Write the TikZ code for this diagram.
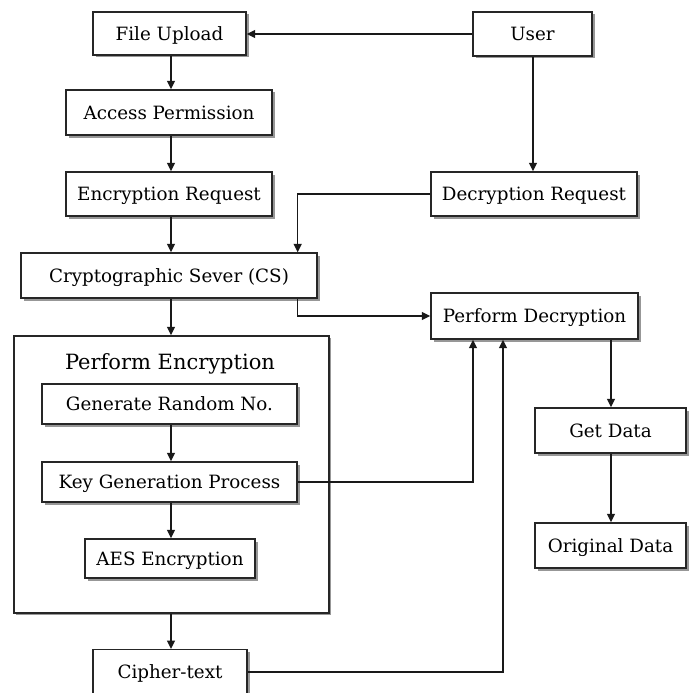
\documentclass[tikz,border=0pt]{standalone}
\usepackage{fontspec}
\setmainfont{DejaVu Serif}
\usetikzlibrary{arrows.meta,shadows}

\tikzset{
  box/.style={draw=black!85, line width=1.4pt, fill=white, rectangle, inner sep=0pt,
    font=\fontsize{18.3}{21}\selectfont, text height=13.2pt, text depth=0pt,
    drop shadow={shadow xshift=2.5pt, shadow yshift=-2.5pt, fill=black!45, opacity=0.9}},
  frame/.style={draw=black!85, line width=1.4pt, fill=white, rectangle, inner sep=0pt,
    drop shadow={shadow xshift=2pt, shadow yshift=-2pt, fill=black!45, opacity=0.9}},
  arr/.style={draw=black!90, line width=1.5pt, -{Triangle[length=8.5pt,width=8pt]}},
  lbl/.style={inner sep=0pt, font=\fontsize{18.3}{21}\selectfont, text height=13.2pt, text depth=0pt},
  ttl/.style={inner sep=0pt, font=\fontsize{21}{25}\selectfont, text height=15.2pt, text depth=0pt}
}

\begin{document}
\begin{tikzpicture}[x=1pt,y=-1pt]
\useasboundingbox (0,0) rectangle (694,693);
\clip (0,0) rectangle (694,693);
\fill[white] (0,0) rectangle (694,693);

% left column: upload and encryption path
\node[box, minimum width=153, minimum height=43] (upload) at (169.5,33.5) {File Upload};
\node[box, minimum width=119, minimum height=44] (user) at (532.5,34) {User};
\node[box, minimum width=206, minimum height=45] (access) at (169,112.5) {Access Permission};
\node[box, minimum width=206, minimum height=44] (encreq) at (169,194) {Encryption Request};
\node[box, minimum width=206, minimum height=44] (decreq) at (534,194) {Decryption Request};
\node[box, minimum width=296, minimum height=45] (cs) at (169,275.5) {Cryptographic Sever (CS)};
\node[box, minimum width=207, minimum height=46] (pdec) at (534.5,316) {Perform Decryption};

% encryption stage with its inner steps
\node[frame, minimum width=315, minimum height=277] (penc) at (171.5,474.5) {};
\node[ttl] (penctitle) at (170,362) {Perform Encryption};
\node[box, minimum width=255, minimum height=40] (genrand) at (169.5,404) {Generate Random No.};
\node[box, minimum width=255, minimum height=40] (keygen) at (169.5,482) {Key Generation Process};
\node[box, minimum width=170, minimum height=39] (aes) at (170,558.5) {AES Encryption};

\node[box, minimum width=154, minimum height=56, anchor=north] (cipher) at (170,649) {};
\node[lbl] (cipherlabel) at (170,672) {Cipher-text};

% right column: decrypted output
\node[box, minimum width=151, minimum height=45] (getdata) at (610.5,430.5) {Get Data};
\node[box, minimum width=151, minimum height=45] (orig) at (610.5,545.5) {Original Data};

% connectors
\draw[arr] (user.west) -- (user.west -| upload.east);
\draw[arr] ([xshift=1.5pt]upload.south) -- ([xshift=1.5pt]upload.south |- access.north);
\draw[arr] ([xshift=2pt]access.south) -- ([xshift=2pt]encreq.north);
\draw[arr] ([xshift=2pt]encreq.south) -- ([xshift=2pt]cs.north);
\draw[arr] ([xshift=0.5pt]user.south) -- ([xshift=0.5pt]user.south |- decreq.north);
\draw[arr] (decreq.west) -| ([xshift=-20pt]cs.north east);
\draw[arr] ([xshift=-20pt]cs.south east) |- (pdec.west);
\draw[arr] ([xshift=2pt]cs.south) -- ([xshift=2pt]cs.south |- penc.north);
\draw[arr] ([xshift=1.5pt]genrand.south) -- ([xshift=1.5pt]keygen.north);
\draw[arr] ([xshift=1.5pt]keygen.south) -- ([xshift=1.5pt]keygen.south |- aes.north);
\draw[arr] ([xshift=1pt]penc.south -| cipher.north) -- ([xshift=1pt]cipher.north);
\draw[arr] (keygen.east) -| ([xshift=-61.5pt]pdec.south);
\draw[arr] (cipherlabel.east -| cipher.east) -| ([xshift=-31.5pt]pdec.south);
\draw[arr] ([xshift=0.5pt]getdata.north |- pdec.south) -- ([xshift=0.5pt]getdata.north);
\draw[arr] ([xshift=0.5pt]getdata.south) -- ([xshift=0.5pt]orig.north);
\end{tikzpicture}
\end{document}
